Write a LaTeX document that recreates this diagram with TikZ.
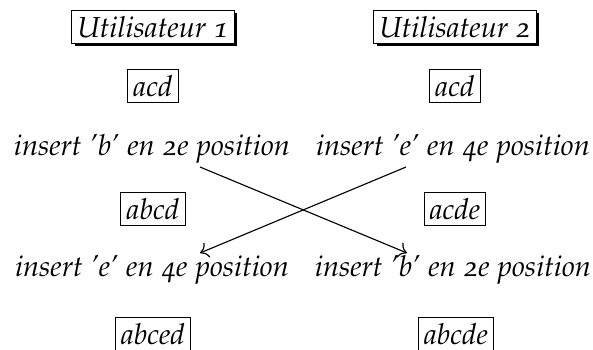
\documentclass[tikz,border=0pt]{standalone}
\usepackage[T1]{fontenc}
\usepackage[osf]{mathpazo}
\usetikzlibrary{shadows,backgrounds,arrows.meta}
\begin{document}
\begin{tikzpicture}[x=0.4pt,y=-0.4pt,
  font=\fontsize{11.6}{14}\selectfont\itshape,
  user/.style={draw, fill=white, line width=0.4pt, inner sep=2.3pt, anchor=base,
    drop shadow={shadow xshift=1.2pt, shadow yshift=-1.2pt, fill=black, opacity=1}},
  state/.style={draw, fill=white, line width=0.4pt, inner sep=2.3pt, anchor=base},
  op/.style={fill=white, inner sep=1pt, anchor=base},
  life/.style={dotted, line width=0.4pt, black!70},
  msg/.style={-{To[length=3.2pt,width=6.4pt]}, line width=0.45pt}]
\clip (0,0) rectangle (593,349);
\fill[white] (0,0) rectangle (593,349);
% left column
\node[user]  (u1) at (153,37)  {Utilisateur 1};
\node[state] (a1) at (153,96)  {acd};
\node[op]    (o1) at (152,155) {insert 'b' en 2e position};
\node[state] (b1) at (153,219) {abcd};
\node[op]    (o2) at (152,276) {insert 'e' en 4e position};
\node[state] (c1) at (153,344) {abced};
% right column
\node[user]  (u2) at (455,37)  {Utilisateur 2};
\node[state] (a2) at (455,96)  {acd};
\node[op]    (p1) at (453,155) {insert 'e' en 4e position};
\node[state] (b2) at (455,219) {acde};
\node[op]    (p2) at (453,276) {insert 'b' en 2e position};
\node[state] (c2) at (456,344) {abcde};
% lifelines
\begin{scope}[on background layer]
  \draw[life] (u1.south) -- (c1.north);
  \draw[life] (u2.south) -- (c2.north);
\end{scope}
% messages
\coordinate (s1) at (200,167);
\coordinate (e1) at (407,253);
\coordinate (s2) at (406,167);
\coordinate (e2) at (200,253);
\draw[msg] (s1) -- (e1);
\draw[msg] (s2) -- (e2);
\end{tikzpicture}
\end{document}
